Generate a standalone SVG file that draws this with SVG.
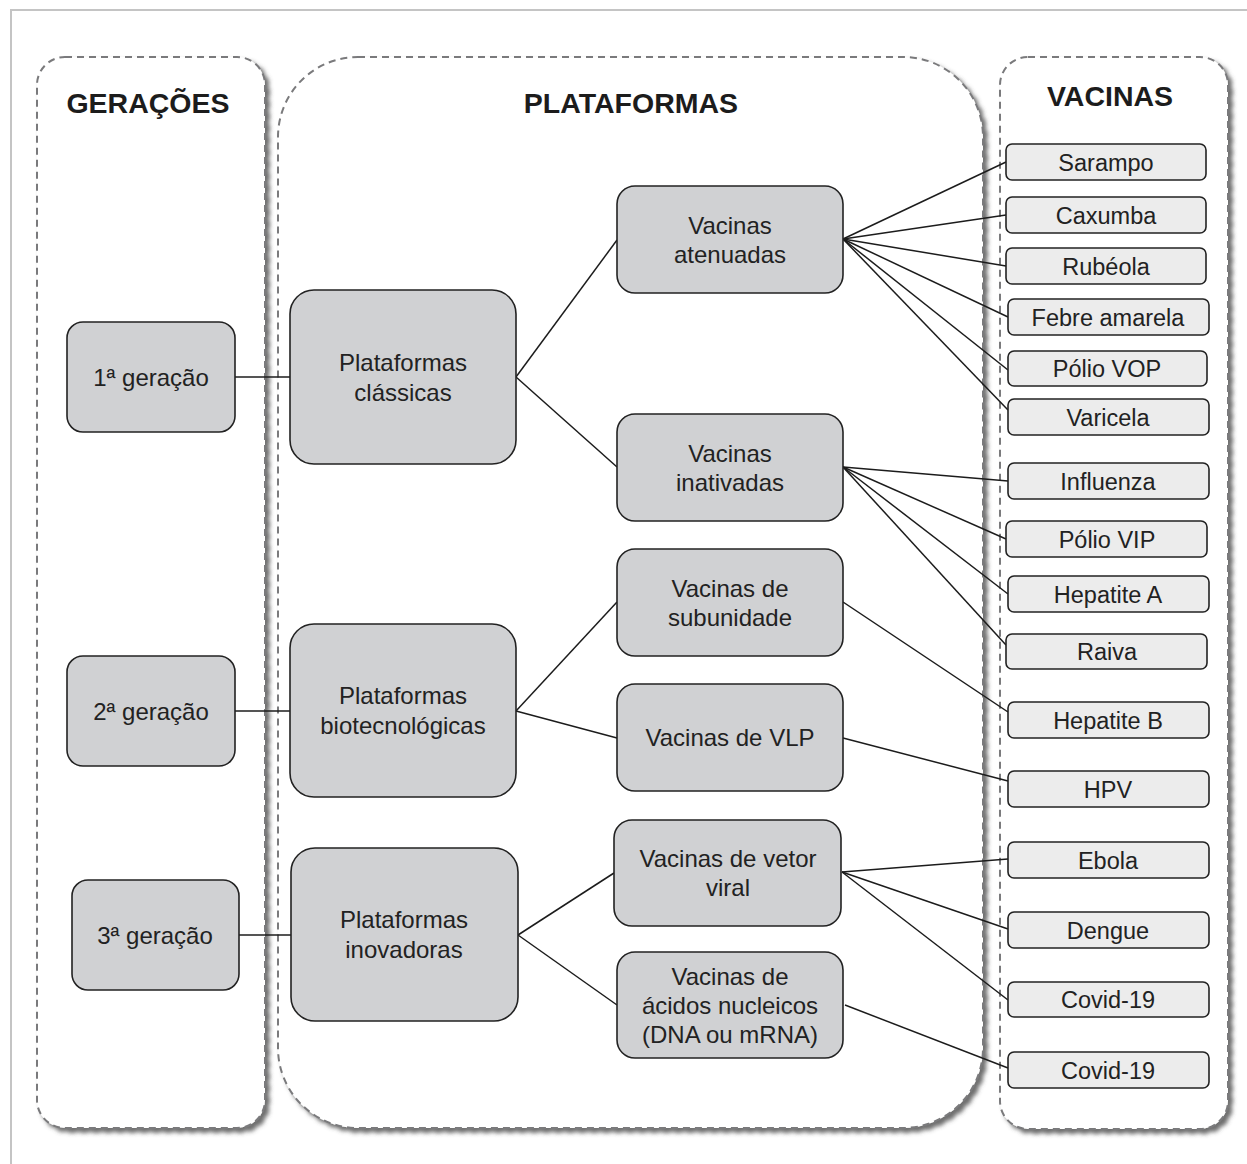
<svg xmlns="http://www.w3.org/2000/svg" width="1247" height="1164" viewBox="0 0 1247 1164">
  <defs>
    <filter id="shadow" x="-5%" y="-5%" width="115%" height="115%">
      <feDropShadow dx="4" dy="4" stdDeviation="2.2" flood-color="#4a4a4a" flood-opacity="0.8"/>
    </filter>
    <style>
      .frame { fill: none; stroke: #c4c4c4; stroke-width: 2; }
      .panel { fill: #ffffff; stroke: #7a7a7c; stroke-width: 2; stroke-dasharray: 7 5; filter: url(#shadow); }
      .title { font-family: "Liberation Sans", Arial, sans-serif; font-weight: bold; font-size: 28.5px; fill: #1c1c1c; text-anchor: middle; }
      .node rect { fill: #d0d1d3; stroke: #222; stroke-width: 1.6; }
      .vac rect { fill: #ececec; stroke: #222; stroke-width: 1.6; }
      .node text, .vac text { font-family: "Liberation Sans", Arial, sans-serif; fill: #222; text-anchor: middle; }
      .node text { font-size: 24px; }
      .vac text { font-size: 23.5px; }
      .links line { stroke: #1c1c1c; stroke-width: 1.5; }
    </style>
  </defs>

  <rect width="1247" height="1164" fill="#ffffff"/>
  <!-- outer frame -->
  <path class="frame" d="M11 1164 V10 H1247"/>

  <!-- column panels -->
  <g id="panel-geracoes">
    <rect class="panel" x="37" y="57" width="228" height="1071" rx="28"/>
    <text class="title" x="148" y="113">GERAÇÕES</text>
  </g>
  <g id="panel-plataformas">
    <rect class="panel" x="278" y="57" width="705" height="1071" rx="80"/>
    <text class="title" x="631" y="113">PLATAFORMAS</text>
  </g>
  <g id="panel-vacinas">
    <rect class="panel" x="1000" y="57" width="228" height="1072" rx="28"/>
    <text class="title" x="1110" y="106">VACINAS</text>
  </g>

  <!-- connectors -->
  <g id="connectors" class="links">
    <line x1="235" y1="377" x2="290" y2="377"/>
    <line x1="235" y1="711" x2="290" y2="711"/>
    <line x1="239" y1="935" x2="291" y2="935"/>

    <line x1="516" y1="377" x2="617" y2="240"/>
    <line x1="516" y1="377" x2="617" y2="467"/>
    <line x1="516" y1="711" x2="617" y2="602"/>
    <line x1="516" y1="711" x2="617" y2="738"/>
    <line x1="518" y1="935" x2="614" y2="873"/>
    <line x1="518" y1="935" x2="617" y2="1005"/>

    <line x1="843" y1="239" x2="1006" y2="162"/>
    <line x1="843" y1="239" x2="1006" y2="215"/>
    <line x1="843" y1="239" x2="1006" y2="266"/>
    <line x1="843" y1="239" x2="1008" y2="317"/>
    <line x1="843" y1="239" x2="1008" y2="370"/>
    <line x1="843" y1="239" x2="1008" y2="410"/>

    <line x1="843" y1="467" x2="1008" y2="481"/>
    <line x1="843" y1="467" x2="1006" y2="539"/>
    <line x1="843" y1="467" x2="1008" y2="594"/>
    <line x1="843" y1="467" x2="1006" y2="645"/>

    <line x1="843" y1="602" x2="1008" y2="712"/>
    <line x1="843" y1="738" x2="1008" y2="781"/>

    <line x1="842" y1="872" x2="1008" y2="859"/>
    <line x1="842" y1="872" x2="1008" y2="929"/>
    <line x1="842" y1="872" x2="1008" y2="1000"/>
    <line x1="845" y1="1005" x2="1008" y2="1068"/>
  </g>

  <!-- generations -->
  <g id="ger1" class="node"><rect x="67" y="322" width="168" height="110" rx="16"/><text x="151" y="386">1ª geração</text></g>
  <g id="ger2" class="node"><rect x="67" y="656" width="168" height="110" rx="16"/><text x="151" y="720">2ª geração</text></g>
  <g id="ger3" class="node"><rect x="72" y="880" width="167" height="110" rx="16"/><text x="155" y="944">3ª geração</text></g>

  <!-- platforms -->
  <g id="plat-classicas" class="node"><rect x="290" y="290" width="226" height="174" rx="24"/><text x="403" y="371">Plataformas</text><text x="403" y="401">clássicas</text></g>
  <g id="plat-biotec" class="node"><rect x="290" y="624" width="226" height="173" rx="24"/><text x="403" y="704">Plataformas</text><text x="403" y="734">biotecnológicas</text></g>
  <g id="plat-inovadoras" class="node"><rect x="291" y="848" width="227" height="173" rx="24"/><text x="404" y="928">Plataformas</text><text x="404" y="958">inovadoras</text></g>

  <!-- vaccine types -->
  <g id="vac-atenuadas" class="node"><rect x="617" y="186" width="226" height="107" rx="18"/><text x="730" y="234">Vacinas</text><text x="730" y="263">atenuadas</text></g>
  <g id="vac-inativadas" class="node"><rect x="617" y="414" width="226" height="107" rx="18"/><text x="730" y="462">Vacinas</text><text x="730" y="491">inativadas</text></g>
  <g id="vac-subunidade" class="node"><rect x="617" y="549" width="226" height="107" rx="18"/><text x="730" y="597">Vacinas de</text><text x="730" y="626">subunidade</text></g>
  <g id="vac-vlp" class="node"><rect x="617" y="684" width="226" height="107" rx="18"/><text x="730" y="746">Vacinas de VLP</text></g>
  <g id="vac-vetor" class="node"><rect x="614" y="820" width="227" height="106" rx="18"/><text x="728" y="867">Vacinas de vetor</text><text x="728" y="896">viral</text></g>
  <g id="vac-acidos" class="node"><rect x="617" y="952" width="226" height="106" rx="18"/><text x="730" y="985">Vacinas de</text><text x="730" y="1014">ácidos nucleicos</text><text x="730" y="1043">(DNA ou mRNA)</text></g>

  <!-- vaccines -->
  <g id="sarampo" class="vac"><rect x="1006" y="144" width="200" height="36" rx="6"/><text x="1106" y="171">Sarampo</text></g>
  <g id="caxumba" class="vac"><rect x="1006" y="197" width="200" height="36" rx="6"/><text x="1106" y="224">Caxumba</text></g>
  <g id="rubeola" class="vac"><rect x="1006" y="248" width="200" height="36" rx="6"/><text x="1106" y="275">Rubéola</text></g>
  <g id="febre" class="vac"><rect x="1008" y="299" width="201" height="36" rx="6"/><text x="1108" y="326">Febre amarela</text></g>
  <g id="polio-vop" class="vac"><rect x="1008" y="351" width="199" height="35" rx="6"/><text x="1107" y="377">Pólio VOP</text></g>
  <g id="varicela" class="vac"><rect x="1008" y="399" width="201" height="36" rx="6"/><text x="1108" y="426">Varicela</text></g>
  <g id="influenza" class="vac"><rect x="1008" y="463" width="201" height="36" rx="6"/><text x="1108" y="490">Influenza</text></g>
  <g id="polio-vip" class="vac"><rect x="1006" y="521" width="201" height="36" rx="6"/><text x="1107" y="548">Pólio VIP</text></g>
  <g id="hepatite-a" class="vac"><rect x="1008" y="576" width="201" height="36" rx="6"/><text x="1108" y="603">Hepatite A</text></g>
  <g id="raiva" class="vac"><rect x="1006" y="634" width="201" height="35" rx="6"/><text x="1107" y="660">Raiva</text></g>
  <g id="hepatite-b" class="vac"><rect x="1008" y="702" width="201" height="36" rx="6"/><text x="1108" y="729">Hepatite B</text></g>
  <g id="hpv" class="vac"><rect x="1008" y="771" width="201" height="36" rx="6"/><text x="1108" y="798">HPV</text></g>
  <g id="ebola" class="vac"><rect x="1008" y="842" width="201" height="36" rx="6"/><text x="1108" y="869">Ebola</text></g>
  <g id="dengue" class="vac"><rect x="1008" y="912" width="201" height="36" rx="6"/><text x="1108" y="939">Dengue</text></g>
  <g id="covid-1" class="vac"><rect x="1008" y="982" width="201" height="35" rx="6"/><text x="1108" y="1008">Covid-19</text></g>
  <g id="covid-2" class="vac"><rect x="1008" y="1052" width="201" height="36" rx="6"/><text x="1108" y="1079">Covid-19</text></g>
</svg>
